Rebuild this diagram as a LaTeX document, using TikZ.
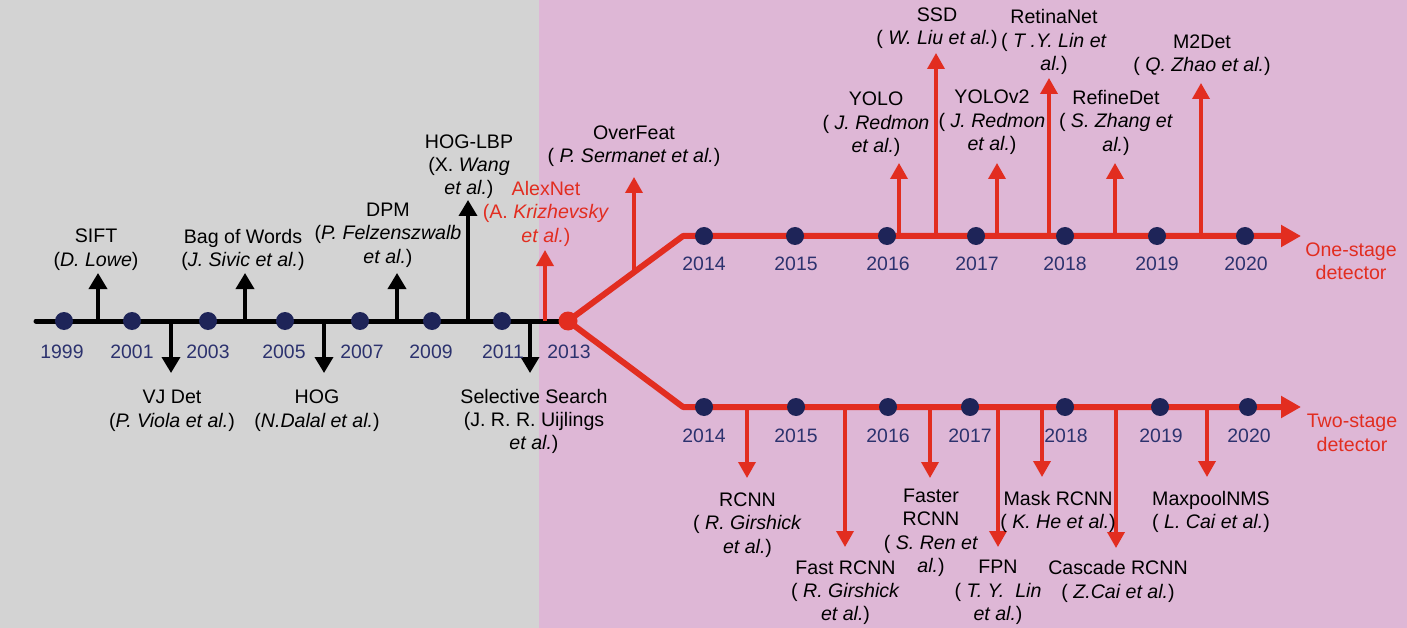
\documentclass[tikz,border=0pt]{standalone}
\usepackage{fontspec}
\setmainfont{Liberation Sans}
\usetikzlibrary{arrows.meta}
\definecolor{bggray}{RGB}{211,211,211}
\definecolor{bgpink}{RGB}{222,183,214}
\definecolor{tred}{RGB}{226,45,32}
\definecolor{tnavy}{RGB}{30,36,88}
\definecolor{ynavy}{RGB}{44,50,110}
\begin{document}
\begin{tikzpicture}[x=1pt,y=-1pt,
  lbl/.style={anchor=north,align=center,inner sep=0pt,yshift=0.4pt,font=\fontsize{19.6}{23.4}\selectfont},
  rlbl/.style={lbl,text=tred},
  yr/.style={anchor=base,inner sep=0pt,text=ynavy,font=\fontsize{19.4}{23.4}\selectfont},
  dot/.style={circle,fill=tnavy,minimum size=18pt,inner sep=0pt},
  reddot/.style={circle,fill=tred,minimum size=19pt,inner sep=0pt},
  bstem/.style={draw=black,line width=3.5pt,-{Triangle[length=16pt,width=18pt]}},
  rstem/.style={draw=tred,line width=3.5pt,-{Triangle[length=16pt,width=17pt]}},
  mainblack/.style={draw=black,line width=5pt,line cap=round},
  mainred/.style={draw=tred,line width=6pt,line join=round,-{Triangle[length=20pt,width=21pt]}}
]
\useasboundingbox (0,0) rectangle (1407,628);
\fill[bggray] (0,0) rectangle (539,628);
\fill[bgpink] (539,0) rectangle (1407,628);

% coordinates of timelines
\coordinate (start) at (36,321);
\coordinate (c2013) at (568,321);
\coordinate (bendU) at (683,236);
\coordinate (endU) at (1301,236);
\coordinate (bendL) at (683,407);
\coordinate (endL) at (1301,407);

\draw[mainblack] (start) -- (c2013);
\draw[mainred] (c2013) -- (bendU) -- (endU);
\draw[mainred] (c2013) -- (bendL) -- (endL);

% left stems
\coordinate (siftB) at (98,321);   \coordinate (siftT) at (98,273);
\coordinate (bowB) at (245,321);   \coordinate (bowT) at (245,273);
\coordinate (dpmB) at (397,321);   \coordinate (dpmT) at (397,273);
\coordinate (lbpB) at (468,321);   \coordinate (lbpT) at (468,200);
\coordinate (vjB) at (171,321);    \coordinate (vjT) at (171,373);
\coordinate (hogB) at (324,321);   \coordinate (hogT) at (324,373);
\coordinate (ssB) at (530,321);    \coordinate (ssT) at (530,373);
\coordinate (alexB) at (545,321);  \coordinate (alexT) at (545,250);
\draw[bstem] (siftB) -- (siftT);
\draw[bstem] (bowB) -- (bowT);
\draw[bstem] (dpmB) -- (dpmT);
\draw[bstem] (lbpB) -- (lbpT);
\draw[bstem] (vjB) -- (vjT);
\draw[bstem] (hogB) -- (hogT);
\draw[bstem] (ssB) -- (ssT);
\draw[rstem] (alexB) -- (alexT);

% upper stems
\coordinate (ofB) at (634,272);    \coordinate (ofT) at (634,177);
\coordinate (yoloB) at (899,236);  \coordinate (yoloT) at (899,163);
\coordinate (ssdB) at (936,236);   \coordinate (ssdT) at (936,53);
\coordinate (yolo2B) at (997,236); \coordinate (yolo2T) at (997,163);
\coordinate (retB) at (1049,236);  \coordinate (retT) at (1049,78);
\coordinate (refB) at (1115,236);  \coordinate (refT) at (1115,163);
\coordinate (m2B) at (1201,236);   \coordinate (m2T) at (1201,83);
\draw[rstem] (ofB) -- (ofT);
\draw[rstem] (yoloB) -- (yoloT);
\draw[rstem] (ssdB) -- (ssdT);
\draw[rstem] (yolo2B) -- (yolo2T);
\draw[rstem] (retB) -- (retT);
\draw[rstem] (refB) -- (refT);
\draw[rstem] (m2B) -- (m2T);

% lower stems
\coordinate (rcB) at (747,407);    \coordinate (rcT) at (747,478);
\coordinate (frB) at (845,407);    \coordinate (frT) at (845,547);
\coordinate (fsB) at (930,407);    \coordinate (fsT) at (930,478);
\coordinate (fpnB) at (998,407);   \coordinate (fpnT) at (998,547);
\coordinate (mkB) at (1042,407);   \coordinate (mkT) at (1042,477);
\coordinate (caB) at (1116,407);   \coordinate (caT) at (1116,548);
\coordinate (mxB) at (1207,407);   \coordinate (mxT) at (1207,477);
\draw[rstem] (rcB) -- (rcT);
\draw[rstem] (frB) -- (frT);
\draw[rstem] (fsB) -- (fsT);
\draw[rstem] (fpnB) -- (fpnT);
\draw[rstem] (mkB) -- (mkT);
\draw[rstem] (caB) -- (caT);
\draw[rstem] (mxB) -- (mxT);

% dots
\node[dot] (d1999) at (64,321) {};
\node[dot] (d2001) at (132,321) {};
\node[dot] (d2003) at (208,321) {};
\node[dot] (d2005) at (285,321) {};
\node[dot] (d2007) at (360,321) {};
\node[dot] (d2009) at (432,321) {};
\node[dot] (d2011) at (502,321) {};
\node[reddot] (d2013) at (c2013) {};
\node[dot] (u2014) at (704,236) {};
\node[dot] (u2015) at (795,236) {};
\node[dot] (u2016) at (887,236) {};
\node[dot] (u2017) at (976,236) {};
\node[dot] (u2018) at (1065,236) {};
\node[dot] (u2019) at (1157,236) {};
\node[dot] (u2020) at (1245,236) {};
\node[dot] (l2014) at (704,407) {};
\node[dot] (l2015) at (796,407) {};
\node[dot] (l2016) at (888,407) {};
\node[dot] (l2017) at (970,407) {};
\node[dot] (l2018) at (1065,407) {};
\node[dot] (l2019) at (1160,407) {};
\node[dot] (l2020) at (1248,407) {};

% years
\node[yr] (y1999) at (62,358) {1999};
\node[yr] (y2001) at (132,358) {2001};
\node[yr] (y2003) at (208,358) {2003};
\node[yr] (y2005) at (284,358) {2005};
\node[yr] (y2007) at (362,358) {2007};
\node[yr] (y2009) at (431,358) {2009};
\node[yr] (y2011) at (503,358) {2011};
\node[yr] (y2013) at (569,358) {2013};
\node[yr] (yu2014) at (704,270) {2014};
\node[yr] (yu2015) at (796,270) {2015};
\node[yr] (yu2016) at (888,270) {2016};
\node[yr] (yu2017) at (977,270) {2017};
\node[yr] (yu2018) at (1065,270) {2018};
\node[yr] (yu2019) at (1157,270) {2019};
\node[yr] (yu2020) at (1246,270) {2020};
\node[yr] (yl2014) at (704,442) {2014};
\node[yr] (yl2015) at (796,442) {2015};
\node[yr] (yl2016) at (888,442) {2016};
\node[yr] (yl2017) at (970,442) {2017};
\node[yr] (yl2018) at (1066,442) {2018};
\node[yr] (yl2019) at (1161,442) {2019};
\node[yr] (yl2020) at (1249,442) {2020};

% left labels
\node[lbl] (sift) at (96,229.4) {SIFT\\(\textit{D. Lowe})};
\node[lbl] (bow) at (243,229.4) {Bag of Words\\(\textit{J. Sivic et al.})};
\node[lbl] (dpm) at (388,203) {DPM\\(\textit{P. Felzenszwalb}\\\textit{et al.})};
\node[lbl] (lbp) at (469,134.7) {HOG-LBP\\(X. \textit{Wang}\\\textit{et al.})};
\node[rlbl] (alex) at (546,181.4) {AlexNet\\(A. \textit{Krizhevsky}\\\textit{et al.})};
\node[lbl] (vj) at (172,390.4) {VJ Det\\(\textit{P. Viola et al.})};
\node[lbl] (hog) at (317,390.4) {HOG\\(\textit{N.Dalal et al.})};
\node[lbl] (ss) at (534,389) {Selective Search\\(J. R. R. Uijlings\\\textit{et al.})};

% upper labels
\node[lbl] (of) at (634,125.7) {OverFeat\\( \textit{P. Sermanet et al.})};
\node[lbl] (yolo) at (876,92.4) {YOLO\\( \textit{J. Redmon}\\\textit{et al.})};
\node[lbl] (ssd) at (937,8.1) {SSD\\( \textit{W. Liu et al.})};
\node[lbl] (yolo2) at (992,90.4) {YOLOv2\\( \textit{J. Redmon}\\\textit{et al.})};
\node[lbl] (ret) at (1054,9.7) {RetinaNet\\( \textit{T .Y. Lin et}\\\textit{al.})};
\node[lbl] (ref) at (1116,90.4) {RefineDet\\( \textit{S. Zhang et}\\\textit{al.})};
\node[lbl] (m2) at (1202,34.7) {M2Det\\( \textit{Q. Zhao et al.})};
\node[rlbl] (one) at (1351,243) {One-stage\\detector};

% lower labels
\node[lbl] (rcnn) at (747.5,493) {RCNN\\( \textit{R. Girshick}\\\textit{et al.})};
\node[lbl] (frcnn) at (845.5,560.7) {Fast RCNN\\( \textit{R. Girshick}\\\textit{et al.})};
\node[lbl] (fsrcnn) at (931,489) {Faster\\RCNN\\( \textit{S. Ren et}\\\textit{al.})};
\node[lbl] (fpn) at (998,560.7) {FPN\\( \textit{T. Y.\ \ Lin}\\\textit{et al.})};
\node[lbl] (mask) at (1058,491.4) {Mask RCNN\\( \textit{K. He et al.})};
\node[lbl] (casc) at (1118,560.7) {Cascade RCNN\\( \textit{Z.Cai et al.})};
\node[lbl] (maxp) at (1211,491.4) {MaxpoolNMS\\( \textit{L. Cai et al.})};
\node[rlbl] (two) at (1352,414.7) {Two-stage\\detector};
\end{tikzpicture}
\end{document}
